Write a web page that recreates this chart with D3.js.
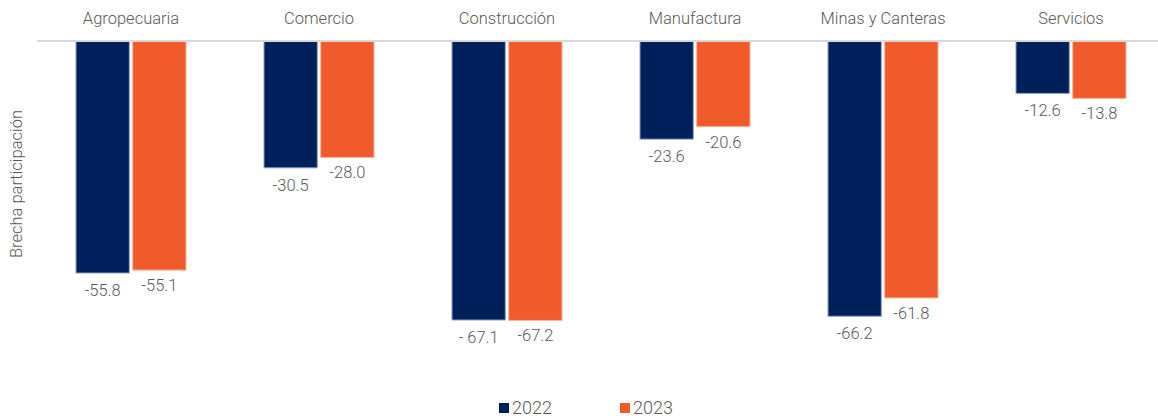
<!DOCTYPE html>
<html>
<head>
<meta charset="utf-8">
<script src="https://cdn.jsdelivr.net/npm/d3@7"></script>
<style>
  body { margin: 0; background: #fff; }
  text { font-family: "Roboto", sans-serif; font-weight: 300; fill: #595959; }
</style>
</head>
<body>
<div class="chart"></div>
<script>
// Brecha de participacion por sector
var categories = ["Agropecuaria", "Comercio", "Construcción", "Manufactura", "Minas y Canteras", "Servicios"];
var years = ["2022", "2023"];
var values2022 = [-55.8, -30.5, -67.1, -23.6, -66.2, -12.6];
var values2023 = [-55.1, -28.0, -67.2, -20.6, -61.8, -13.8];
var valueLabels2022 = ["-55.8", "-30.5", "- 67.1", "-23.6", "-66.2", "-12.6"];
var valueLabels2023 = ["-55.1", "-28.0", "-67.2", "-20.6", "-61.8", "-13.8"];
var colors = ["#00205b", "#f15a2b"];

var svgWidth = 1158;
var svgHeight = 419;
var margin = { top: 41, left: 37 };

var svg = d3.select(".chart")
  .append("svg")
  .attr("width", svgWidth)
  .attr("height", svgHeight);

var xScale = d3.scaleBand()
  .domain(categories)
  .range([margin.left, margin.left + 188 * 6])
  .paddingInner(0)
  .paddingOuter(0);

var xInner = d3.scaleBand()
  .domain(years)
  .range([0, 110])
  .paddingInner(0.06);

var yScale = d3.scaleLinear()
  .domain([0, -67.1])
  .range([margin.top, 320]);

var rows = [];
categories.forEach(function(c, i) {
  rows.push({ cat: c, year: "2022", value: values2022[i], label: valueLabels2022[i] });
  rows.push({ cat: c, year: "2023", value: values2023[i], label: valueLabels2023[i] });
});

function barX(d) {
  return xScale(d.cat) + (xScale.bandwidth() - 110) / 2 + xInner(d.year);
}

// bars
svg.selectAll("rect.bar")
  .data(rows)
  .enter()
  .append("rect")
  .attr("class", "bar")
  .attr("x", barX)
  .attr("y", yScale(0))
  .attr("width", xInner.bandwidth())
  .attr("height", function(d) { return yScale(d.value) - yScale(0); })
  .attr("fill", function(d) { return colors[years.indexOf(d.year)]; })
  .attr("stroke", function(d) { return d.year === "2022" ? "#8fa0c0" : "#f7b59c"; })
  .attr("stroke-width", 1);

// zero line
svg.append("line")
  .attr("x1", margin.left)
  .attr("x2", svgWidth)
  .attr("y1", yScale(0))
  .attr("y2", yScale(0))
  .attr("stroke", "#d9d9d9")
  .attr("stroke-width", 2);

// value labels
svg.selectAll("text.val")
  .data(rows)
  .enter()
  .append("text")
  .attr("class", "val")
  .attr("x", function(d) { return barX(d) + xInner.bandwidth() / 2; })
  .attr("y", function(d) { return yScale(d.value) + (d.year === "2022" ? 23 : 21); })
  .attr("text-anchor", "middle")
  .attr("font-size", "16.5px")
  .text(function(d) { return d.label; });

// category labels on top
svg.selectAll("text.cat")
  .data(categories)
  .enter()
  .append("text")
  .attr("class", "cat")
  .attr("x", function(d) { return xScale(d) + xScale.bandwidth() / 2; })
  .attr("y", 24)
  .attr("text-anchor", "middle")
  .attr("font-size", "16.5px")
  .text(function(d) { return d; });

// y axis title
svg.append("text")
  .attr("transform", "translate(22,184) rotate(-90)")
  .attr("text-anchor", "middle")
  .attr("font-size", "16.5px")
  .text("Brecha participación");

// legend
var legend = svg.selectAll("g.legend")
  .data(years)
  .enter()
  .append("g")
  .attr("class", "legend")
  .attr("transform", function(d, i) { return "translate(" + (499 + i * 121) + ",0)"; });
legend.append("rect")
  .attr("x", 0)
  .attr("y", 403)
  .attr("width", 10)
  .attr("height", 10)
  .attr("fill", function(d, i) { return colors[i]; });
legend.append("text")
  .attr("x", 13)
  .attr("y", 414)
  .attr("font-size", "18px")
  .text(function(d) { return d; });
</script>
</body>
</html>
